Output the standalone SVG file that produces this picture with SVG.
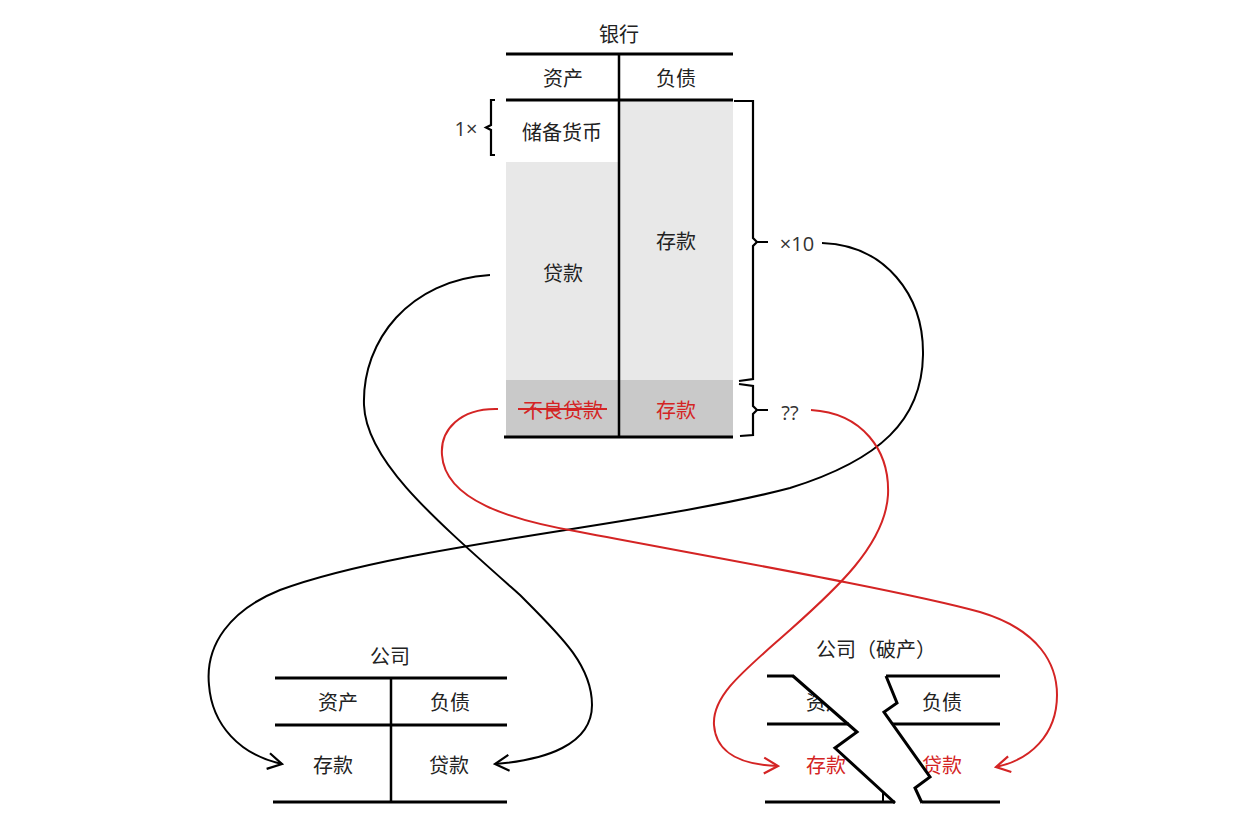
<svg xmlns="http://www.w3.org/2000/svg" width="1240" height="825" viewBox="0 0 1240 825">
<style>
text{font-family:"Noto Sans CJK SC","Noto Sans",sans-serif;font-size:20px;fill:#222;text-anchor:middle;dominant-baseline:central}
.red{fill:#d42424}
.sm{font-family:"Open Sans","Liberation Sans",sans-serif;font-size:20px;fill:#333}
.hl{stroke:#000;stroke-width:3;fill:none}
.vl{stroke:#000;stroke-width:2.5;fill:none}
.br{stroke:#000;stroke-width:2.2;fill:none;stroke-linejoin:miter}
.con{fill:none;stroke-width:2}
.blk{stroke:#000}
.rc{stroke:#d42424}
</style>
<defs>
<marker id="ab" viewBox="0 0 20 20" refX="18" refY="10" markerWidth="20" markerHeight="20" markerUnits="userSpaceOnUse" orient="auto">
<path d="M4,2 L18,10 L4,18" fill="none" stroke="#000" stroke-width="2.2"/>
</marker>
<marker id="ar" viewBox="0 0 20 20" refX="18" refY="10" markerWidth="20" markerHeight="20" markerUnits="userSpaceOnUse" orient="auto">
<path d="M4,2 L18,10 L4,18" fill="none" stroke="#d42424" stroke-width="2.2"/>
</marker>
</defs>
<rect width="1240" height="825" fill="#fff"/>

<g id="bank">
<rect x="620" y="100" width="113" height="280" fill="#e8e8e8"/>
<rect x="506" y="162" width="113" height="218" fill="#e8e8e8"/>
<rect x="506" y="380" width="227" height="57" fill="#c9c9c9"/>
<text x="619" y="33">银行</text>
<line class="hl" x1="506" y1="54" x2="733" y2="54"/>
<line class="hl" x1="506" y1="100" x2="733" y2="100"/>
<line class="hl" x1="504" y1="437" x2="733" y2="437"/>
<line class="vl" x1="619" y1="54" x2="619" y2="437"/>
<text x="563" y="77">资产</text>
<text x="676" y="77">负债</text>
<text x="562" y="131">储备货币</text>
<text x="676" y="240">存款</text>
<text x="563" y="272">贷款</text>
<text class="red" x="563" y="409">不良贷款</text>
<line x1="518" y1="409" x2="607" y2="409" stroke="#d42424" stroke-width="2.2"/>
<text class="red" x="676" y="409">存款</text>
</g>

<g id="braces">
<path class="br" d="M495,100 L491,100 L491,125 L486,127.5 L491,130 L491,155 L495,155"/>
<text class="sm" x="466" y="128">1×</text>
<path class="br" d="M734,101 L753,101 L753,238 L757,242 L768,242 M757,242 L753,246 L753,379 L739,381"/>
<text class="sm" x="797" y="243">×10</text>
<path class="br" d="M739,384 L753,386 L753,406 L757,410 L768,410 M757,410 L753,414 L753,435 L740,436"/>
<text class="sm red" x="790" y="412">??</text>
</g>

<g id="company">
<text x="390" y="655">公司</text>
<line class="hl" x1="275" y1="678" x2="507" y2="678"/>
<line class="hl" x1="275" y1="725" x2="507" y2="725"/>
<line class="hl" x1="273" y1="802" x2="507" y2="802"/>
<line class="vl" x1="391" y1="678" x2="391" y2="802"/>
<text x="338" y="701">资产</text>
<text x="450" y="701">负债</text>
<text x="333" y="764">存款</text>
<text x="449" y="764">贷款</text>
</g>

<g id="company-bankrupt">
<text x="876" y="648">公司（破产）</text>
<text x="826" y="701">资产</text>
<text x="942" y="701">负债</text>
<text class="red" x="826" y="764">存款</text>
<text class="red" x="942" y="764">贷款</text>
<polygon points="793,676 857,732 835,748 895,803 922,803 915,788 930,777 884,712 897,703 886,676" fill="#fff"/>
<line class="hl" x1="767" y1="676" x2="794" y2="676"/>
<line class="hl" x1="886" y1="676" x2="1000" y2="676"/>
<line class="hl" x1="767" y1="724" x2="849" y2="724"/>
<line class="hl" x1="892" y1="724" x2="1000" y2="724"/>
<line class="hl" x1="765" y1="802" x2="895" y2="802"/>
<line class="hl" x1="922" y1="802" x2="1000" y2="802"/>
<line x1="883" y1="792" x2="883" y2="802" stroke="#000" stroke-width="2"/>
<polyline class="hl" points="793,676 857,732 835,748 895,803"/>
<polyline class="hl" points="886,676 897,703 884,712 930,777 915,788 922,803"/>
</g>

<g id="connectors">
<path class="con blk" marker-end="url(#ab)" d="M490,275 C410,280 362,340 364,405 C366,460 430,515 520,595 C560,635 592,665 592,705 C592,745 545,760 495,764"/>
<path class="con blk" marker-end="url(#ab)" d="M822,243 C885,245 924,295 923,355 C922,420 880,460 790,488 C650,525 400,545 280,590 C230,610 205,645 209,685 C212,725 240,755 282,764"/>
<path class="con rc" marker-end="url(#ar)" d="M498,409 C460,408 440,430 442,455 C445,500 510,520 580,532 C700,555 900,590 980,612 C1040,630 1057,665 1057,695 C1057,735 1030,760 996,767"/>
<path class="con rc" marker-end="url(#ar)" d="M811,410 C862,413 890,450 888,495 C885,545 835,590 790,630 C745,670 712,695 714,725 C716,755 745,765 778,766"/>
</g>
</svg>
